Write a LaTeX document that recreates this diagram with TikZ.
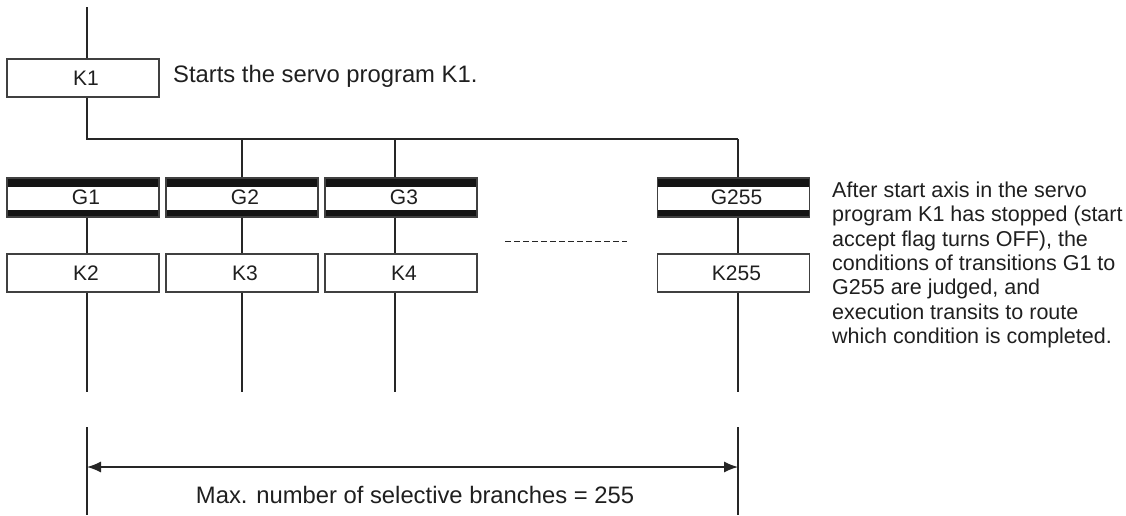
\documentclass[tikz,border=0pt]{standalone}
\usepackage{fontspec}
\setmainfont{Liberation Sans}
\usetikzlibrary{arrows.meta}
\begin{document}
\begin{tikzpicture}[x=1pt,y=-1pt,
  ln/.style={draw=black!85, line width=1.3pt},
  kbox/.style={draw=black!75, line width=1.3pt, minimum width=152pt, minimum height=38pt,
    inner sep=0pt, font=\fontsize{21}{24}\selectfont, text=black!88,
    execute at begin node={\hspace*{6pt}}},
  gbox/.style={draw=black!75, line width=1.3pt, minimum width=152pt, minimum height=39pt,
    inner sep=0pt, font=\fontsize{21}{24}\selectfont, text=black!88,
    execute at begin node={\hspace*{6pt}},
    path picture={
      \fill[black!92] (path picture bounding box.north west) rectangle ([yshift=-9pt]path picture bounding box.north east);
      \fill[black!92] (path picture bounding box.south west) rectangle ([yshift=7pt]path picture bounding box.south east);
    }},
  note/.style={inner sep=0pt, text=black!88},
  dimarrow/.style={ln, {Latex[length=14pt,width=11pt]}-{Latex[length=14pt,width=11pt]}}
]
\useasboundingbox (0,0) rectangle (1126,515);

% branch junctions
\coordinate (top) at (87,7);
\coordinate (j1) at (87,139);
\coordinate (j2) at (242,139);
\coordinate (j3) at (395,139);
\coordinate (j4) at (738,139);
\coordinate (e1) at (87,392);
\coordinate (e2) at (242,392);
\coordinate (e3) at (395,392);
\coordinate (e4) at (738,392);

% boxes
\node[kbox] (K1) at (83,78) {K1};
\node[gbox] (G1) at (83,197.5) {G1};
\node[gbox] (G2) at (242,197.5) {G2};
\node[gbox] (G3) at (401,197.5) {G3};
\node[gbox] (G255) at (733.5,197.5) {G255};
\node[kbox] (K2) at (83,273) {K2};
\node[kbox] (K3) at (242,273) {K3};
\node[kbox] (K4) at (401,273) {K4};
\node[kbox] (K255) at (733.5,273) {K255};

% connectors
\draw[ln] (top) -- (top |- K1.north);
\draw[ln] (j1 |- K1.south) -- (j1) -- (j4);
\draw[ln] (j2) -- (j2 |- G2.north);
\draw[ln] (j3) -- (j3 |- G3.north);
\draw[ln] (j4) -- (j4 |- G255.north);
\draw[ln] (j1 |- G1.south) -- (j1 |- K2.north);
\draw[ln] (j2 |- G2.south) -- (j2 |- K3.north);
\draw[ln] (j3 |- G3.south) -- (j3 |- K4.north);
\draw[ln] (j4 |- G255.south) -- (j4 |- K255.north);
\draw[ln] (j1 |- K2.south) -- (e1);
\draw[ln] (j2 |- K3.south) -- (e2);
\draw[ln] (j3 |- K4.south) -- (e3);
\draw[ln] (j4 |- K255.south) -- (e4);

% dashed ellipsis
\coordinate (ds) at (505,241);
\coordinate (de) at (627,241);
\draw[draw=black!85, line width=1pt, dash pattern=on 6pt off 3pt] (ds) -- (de);

% dimension
\coordinate (d1t) at (87,427);
\coordinate (d1b) at (87,515);
\coordinate (d4t) at (738,427);
\coordinate (d4b) at (738,515);
\draw[ln] (d1t) -- (d1b);
\draw[ln] (d4t) -- (d4b);
\coordinate (a1) at (87,467);
\coordinate (a4) at (738,467);
\draw[dimarrow] (a1) -- (a4);

% texts
\node[note, anchor=base west, font=\fontsize{23.8}{26}\selectfont] (n1) at (173,82) {Starts the servo program K1.};
\node[note, anchor=base, font=\fontsize{23.8}{26}\selectfont] (n3) at (415,503) {Max. number of selective branches = 255};
\node[note, anchor=north west, align=left, font=\fontsize{21.5}{24.4}\selectfont] (n2) at (832,181.5)
  {After start axis in the servo\\program K1 has stopped (start\\accept flag turns OFF), the\\conditions of transitions G1 to\\G255 are judged, and\\execution transits to route\\which condition is completed.};
\end{tikzpicture}
\end{document}
